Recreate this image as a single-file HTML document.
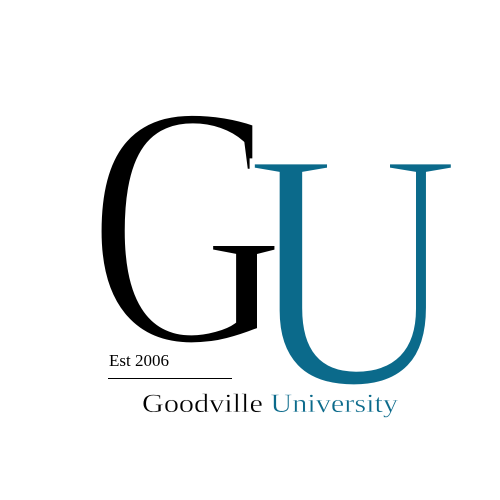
<!DOCTYPE html>
<html><head><meta charset="utf-8"><style>
html,body{margin:0;padding:0;background:#fff;width:500px;height:500px;overflow:hidden}
svg{display:block}
</style></head><body>
<svg width="500" height="500" viewBox="0 0 500 500">
  <rect x="0" y="0" width="500" height="500" fill="#ffffff"/>
  <text transform="translate(88,342) scale(0.79,1)" font-family="Liberation Serif, serif" font-size="346" fill="#000" stroke="#fff" stroke-width="6" paint-order="fill stroke">G</text>
  <text transform="translate(246,384) scale(0.87,1)" font-family="Liberation Serif, serif" font-size="340" fill="#0b6a8b" stroke="#fff" stroke-width="6" paint-order="fill stroke">U</text>
  <text x="109" y="366" font-family="Liberation Serif, serif" font-size="17" fill="#000">Est 2006</text>
  <line x1="108" y1="378.5" x2="232" y2="378.5" stroke="#000" stroke-width="1"/>
  <text x="142" y="412" font-family="Liberation Serif, serif" font-size="26" fill="#000" stroke="#fff" stroke-width="0.4" textLength="256" lengthAdjust="spacingAndGlyphs">Goodville <tspan fill="#0b6a8b">University</tspan></text>
</svg>
</body></html>
